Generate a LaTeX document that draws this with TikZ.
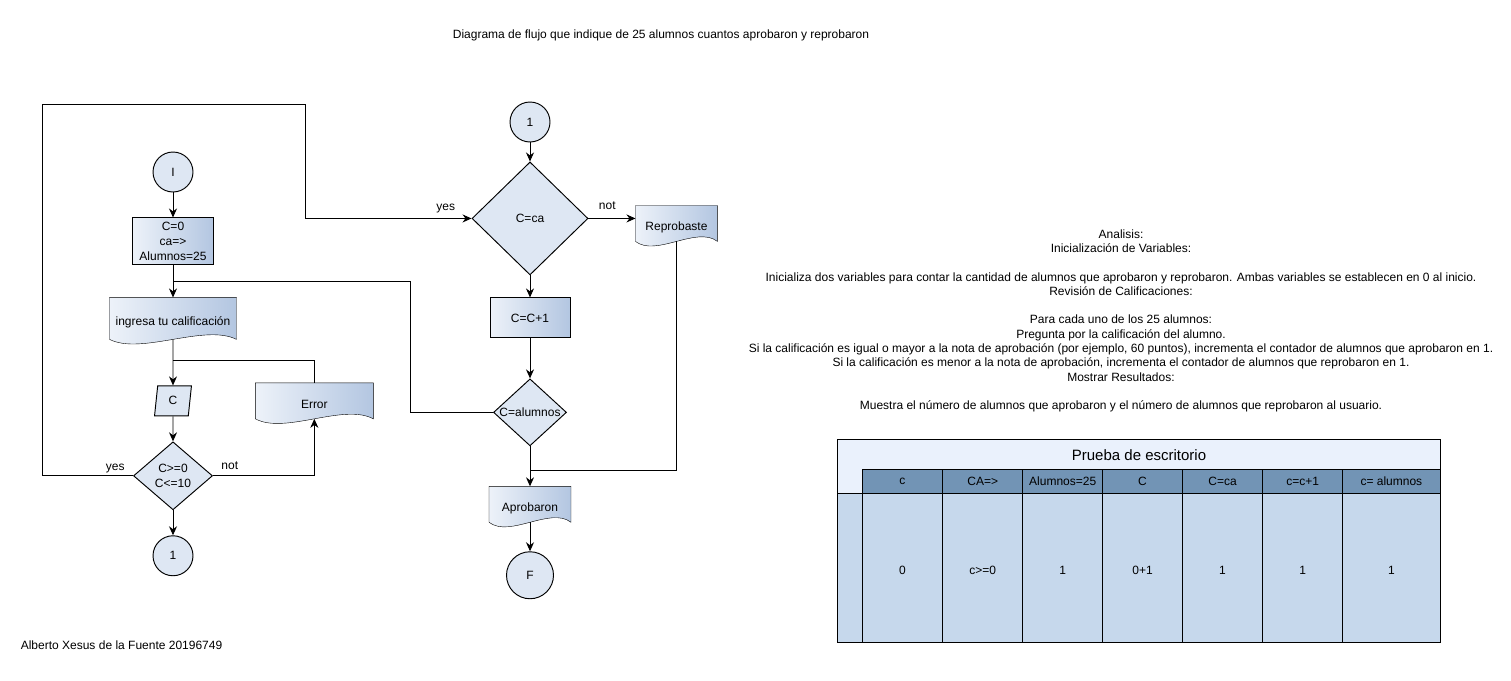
\documentclass[tikz,border=0pt]{standalone}
\usepackage{fontspec}
\setmainfont{Liberation Sans}
\usetikzlibrary{positioning,shapes.geometric,arrows.meta,calc,backgrounds}
\definecolor{boxlight}{HTML}{EDF2F9}
\definecolor{boxdark}{HTML}{B3C6E1}
\definecolor{flatfill}{HTML}{DEE7F3}
\definecolor{tabtitle}{HTML}{EAF1FC}
\definecolor{tabhead}{HTML}{7294B5}
\definecolor{tabdata}{HTML}{C6D8EC}
\tikzset{
  every node/.style={font=\fontsize{12}{15}\selectfont},
  conn/.style={circle, draw, fill=flatfill, minimum size=40pt, inner sep=0pt},
  process/.style={rectangle, draw, left color=boxlight, right color=boxdark, align=center, inner sep=0pt},
  inputbox/.style={trapezium, trapezium left angle=84, trapezium right angle=96, draw, fill=flatfill,
    minimum width=27pt, minimum height=30pt, inner sep=0pt},
  decision/.style={diamond, draw, fill=flatfill, inner sep=0pt},
  doc/.style={rectangle, inner sep=0pt, text height=15pt, text depth=0pt},
  docshape/.style={draw, left color=boxlight, right color=boxdark},
  lbl/.style={inner sep=1pt}
}

\begin{document}
\begin{tikzpicture}[x=1pt, y=-1pt, line width=0.95pt, >={Stealth[length=9pt,width=8pt]}]
  \useasboundingbox (0,0) rectangle (1511,680);

  \node (titulo) at (661,35) {Diagrama de flujo que indique de 25 alumnos cuantos aprobaron y reprobaron};
  \node[anchor=west] (autor) at (17,645) {Alberto Xesus de la Fuente 20196749};

  % lectura de calificaciones
  \node[conn] (I) at (173,172) {I};
  \node[process, minimum width=81pt, minimum height=47pt, below=25pt of I] (init) {C=0\\ca=>\\Alumnos=25};
  \node[doc, minimum width=126pt, minimum height=41pt, below=32pt of init] (ing) {ingresa tu calificación};
  \node[inputbox, below=46pt of ing] (cpar) {C};
  \node[decision, minimum width=79pt, minimum height=68pt, below=25pt of cpar,
        label={[align=center]center:C>=0\\C<=10}] (dec1) {};
  \node[conn, below=25pt of dec1] (c1) {1};
  \node[doc, minimum width=117pt, minimum height=35pt, right=65pt of cpar] (err) {Error};

  % conteo
  \node[conn] (c2) at (530,122) {1};
  \node[decision, minimum width=116pt, minimum height=113pt, below=19pt of c2, label={center:{C=ca}}] (cca) {};
  \node[doc, minimum width=81pt, minimum height=35pt, right=47pt of cca, yshift=-5pt] (rep) {Reprobaste};
  \node[process, minimum width=80pt, minimum height=40pt, below=22pt of cca] (inc) {C=C+1};
  \node[decision, minimum width=73pt, minimum height=67pt, below=40pt of inc, label={center:{C=alumnos}}] (calum) {};
  \node[doc, minimum width=81pt, minimum height=35pt, below=40pt of calum] (apr) {Aprobaron};
  \node[conn, minimum size=47pt, below=29pt of apr] (F) {F};

  \begin{scope}[on background layer]
    \foreach \d in {ing,err,rep,apr}
      \path[docshape] (\d.south west) -- (\d.north west) -- (\d.north east) -- (\d.south east)
        .. controls ($(\d.south)!0.5!(\d.south east)+(0,-16)$) and ($(\d.south)!0.5!(\d.south west)+(0,16)$) .. (\d.south west) -- cycle;
  \end{scope}

  \coordinate (j1) at ($(init.south)!0.5!(ing.north)$);
  \coordinate (j2) at ($(ing.south)!0.45!(cpar.north)$);
  \coordinate (j3) at ($(calum.south)!0.6!(apr.north)$);
  \coordinate (lt) at (42,104);
  \coordinate (rt) at (305,104);

  \path[->] (I) edge (init)
            (init) edge (ing)
            (ing) edge (cpar)
            (cpar) edge (dec1)
            (dec1) edge (c1)
            (c2) edge (cca)
            (cca) edge (inc)
            (inc) edge (calum)
            (calum) edge (apr)
            (apr) edge (F);

  \draw (calum.west) -- ++(-83,0) |- (j1);
  \draw (j2) -| (err.north);
  \draw[->] (dec1.east) node[lbl, above right=5pt and 7pt] {not} -| (err.south);
  \draw[->] (dec1.west) node[lbl, above left=1.5pt and 7pt] {yes} -| (lt) -- (rt) |- (cca.west)
            node[lbl, above left=3.5pt and 15pt] {yes};
  \draw[->] (cca.east) node[lbl, above right=7pt and 9pt] {not} -- (cca.east -| rep.west);
  \draw (rep.south) |- (j3);

  % analisis
  \node[align=center, anchor=north, inner sep=0pt, font=\fontsize{12}{14.3}\selectfont] (analisis) at (1121,229)
    {Analisis:\\
     Inicialización de Variables:\\[14.3pt]
     Inicializa dos variables para contar la cantidad de alumnos que aprobaron y reprobaron. Ambas variables se establecen en 0 al inicio.\\
     Revisión de Calificaciones:\\[14.3pt]
     Para cada uno de los 25 alumnos:\\
     Pregunta por la calificación del alumno.\\
     Si la calificación es igual o mayor a la nota de aprobación (por ejemplo, 60 puntos), incrementa el contador de alumnos que aprobaron en 1.\\
     Si la calificación es menor a la nota de aprobación, incrementa el contador de alumnos que reprobaron en 1.\\
     Mostrar Resultados:\\[14.3pt]
     Muestra el número de alumnos que aprobaron y el número de alumnos que reprobaron al usuario.};

  % prueba de escritorio
  \fill[tabtitle] (837,439) rectangle (1440,493);
  \fill[tabhead] (862,469) rectangle (1440,493);
  \fill[tabdata] (837,493) rectangle (1440,642);
  \draw (862,469) -- (1440,469) (837,493) -- (1440,493);
  \foreach \x in {862,942.7,1022.7,1102.7,1182.3,1262.7,1342.7}
    \draw (\x,469) -- (\x,642);
  \draw (837,439) rectangle (1440,642);
  \node[font=\fontsize{15}{18}\selectfont] (prueba) at (1139,455) {Prueba de escritorio};
  \foreach \a/\b/\h/\v [count=\i] in {862/942.7/c/0, 942.7/1022.7/CA=>/c>=0, 1022.7/1102.7/Alumnos=25/1,
      1102.7/1182.3/C/0+1, 1182.3/1262.7/C=ca/1, 1262.7/1342.7/c=c+1/1, 1342.7/1440/c= alumnos/1} {
    \node (h\i) at ({(\a+\b)/2},481) {\h};
    \node (v\i) at ({(\a+\b)/2},570) {\v};
  }
\end{tikzpicture}
\end{document}
